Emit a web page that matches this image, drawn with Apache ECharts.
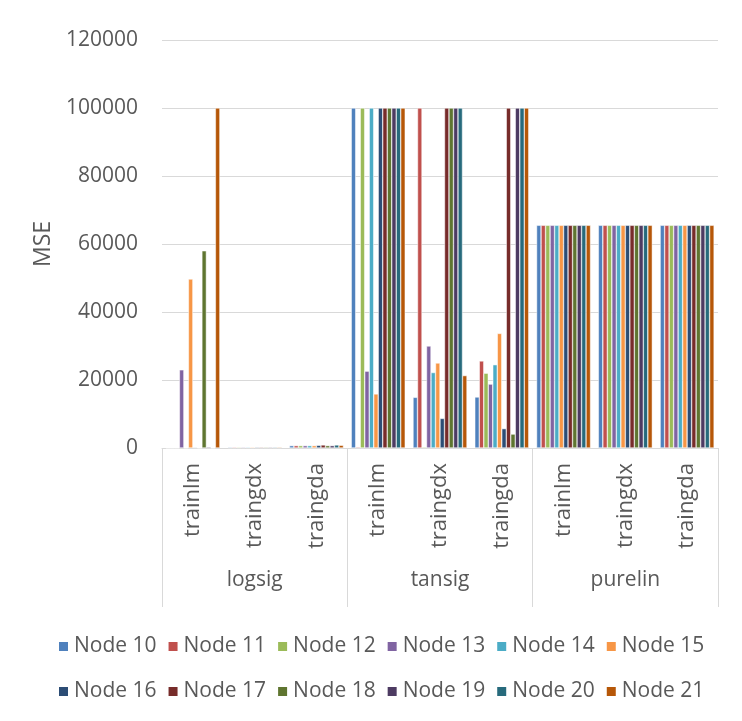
<!DOCTYPE html>
<html>
<head>
<meta charset="utf-8">
<script src="https://cdn.jsdelivr.net/npm/echarts@6/dist/echarts.min.js"></script>
<style>
  html, body { margin: 0; padding: 0; background: #fff; }
  #chart { width: 742px; height: 721px; }
</style>
</head>
<body>
<div id="chart"></div>
<script>
// Training functions within each transfer function group
const methods = ['trainlm', 'traingdx', 'traingda', 'trainlm', 'traingdx', 'traingda', 'trainlm', 'traingdx', 'traingda'];
const groups = ['logsig', 'tansig', 'purelin'];
const yTicks = [0, 20000, 40000, 60000, 80000, 100000, 120000];

const nodeNames = ['Node 10', 'Node 11', 'Node 12', 'Node 13', 'Node 14', 'Node 15',
                   'Node 16', 'Node 17', 'Node 18', 'Node 19', 'Node 20', 'Node 21'];

// MSE per hidden-node count, in the order of `methods`
const node10 = [0,     250, 700, 100000, 14900,  15000,  65500, 65500, 65500];
const node11 = [0,     250, 700, 300,    100000, 25600,  65500, 65500, 65500];
const node12 = [0,     250, 700, 100000, 300,    22000,  65500, 65500, 65500];
const node13 = [23000, 250, 700, 22600,  30000,  18800,  65500, 65500, 65500];
const node14 = [0,     250, 700, 100000, 22200,  24500,  65500, 65500, 65500];
const node15 = [49700, 250, 700, 15900,  25000,  33700,  65500, 65500, 65500];
const node16 = [200,   250, 800, 100000, 8700,   5700,   65500, 65500, 65500];
const node17 = [0,     250, 900, 100000, 100000, 100000, 65500, 65500, 65500];
const node18 = [58000, 250, 700, 100000, 100000, 4100,   65500, 65500, 65500];
const node19 = [300,   250, 700, 100000, 100000, 100000, 65500, 65500, 65500];
const node20 = [0,     250, 900, 100000, 100000, 100000, 65500, 65500, 65500];
const node21 = [100000, 250, 800, 100000, 21300, 100000, 65500, 65500, 65500];

const nodeValues = [node10, node11, node12, node13, node14, node15,
                    node16, node17, node18, node19, node20, node21];

const palette = ['#4F81BD', '#C0504D', '#9BBB59', '#8064A2', '#4BACC6', '#F79646',
                 '#2C4D75', '#772C2A', '#5F7530', '#4D3B62', '#276A7C', '#B65708'];

const FONT = '"Open Sans", "Liberation Sans", sans-serif';
const TEXT = '#595959';
const LINE = '#d9d9d9';

const chart = echarts.init(document.getElementById('chart'), null, { renderer: 'canvas' });

const legendText = { color: TEXT, fontFamily: FONT, fontSize: 21 };

chart.setOption({
  animation: false,
  color: palette,
  grid: { left: 162, right: 24, top: 40, bottom: 273 },
  legend: [
    {
      data: nodeNames.slice(0, 6),
      left: 57, top: 636, padding: 0,
      itemWidth: 11, itemHeight: 11, itemGap: 10,
      icon: 'rect',
      textStyle: legendText
    },
    {
      data: nodeNames.slice(6),
      left: 57, top: 681, padding: 0,
      itemWidth: 11, itemHeight: 11, itemGap: 10,
      icon: 'rect',
      textStyle: legendText
    }
  ],
  xAxis: [
    {
      type: 'category',
      data: methods,
      position: 'bottom',
      axisLine: { show: true, lineStyle: { color: LINE, width: 1 } },
      axisTick: { show: false },
      axisLabel: {
        rotate: 90, margin: 15, interval: 0,
        color: TEXT, fontFamily: FONT, fontSize: 22
      }
    },
    {
      type: 'category',
      data: groups,
      position: 'bottom',
      axisLine: { show: false },
      axisTick: { show: true, length: 159, inside: false, lineStyle: { color: LINE, width: 1 } },
      axisLabel: {
        margin: 122, interval: 0,
        color: TEXT, fontFamily: FONT, fontSize: 21
      }
    }
  ],
  yAxis: {
    type: 'value',
    min: yTicks[0],
    max: yTicks[yTicks.length - 1],
    interval: yTicks[1] - yTicks[0],
    name: 'MSE',
    nameLocation: 'middle',
    nameGap: 104,
    nameTextStyle: { color: TEXT, fontFamily: FONT, fontSize: 23 },
    axisLine: { show: false },
    axisTick: { show: false },
    splitLine: { lineStyle: { color: LINE, width: 1 } },
    axisLabel: {
      margin: 24, color: TEXT, fontFamily: FONT, fontSize: 21,
      formatter: (v) => String(v)
    }
  },
  series: nodeValues.map((vals, i) => ({
    name: nodeNames[i],
    type: 'bar',
    xAxisIndex: 0,
    data: vals,
    barGap: '0%',
    barCategoryGap: '12.6%',
    itemStyle: { borderColor: '#ffffff', borderWidth: 0.5 }
  }))
});
</script>
</body>
</html>
